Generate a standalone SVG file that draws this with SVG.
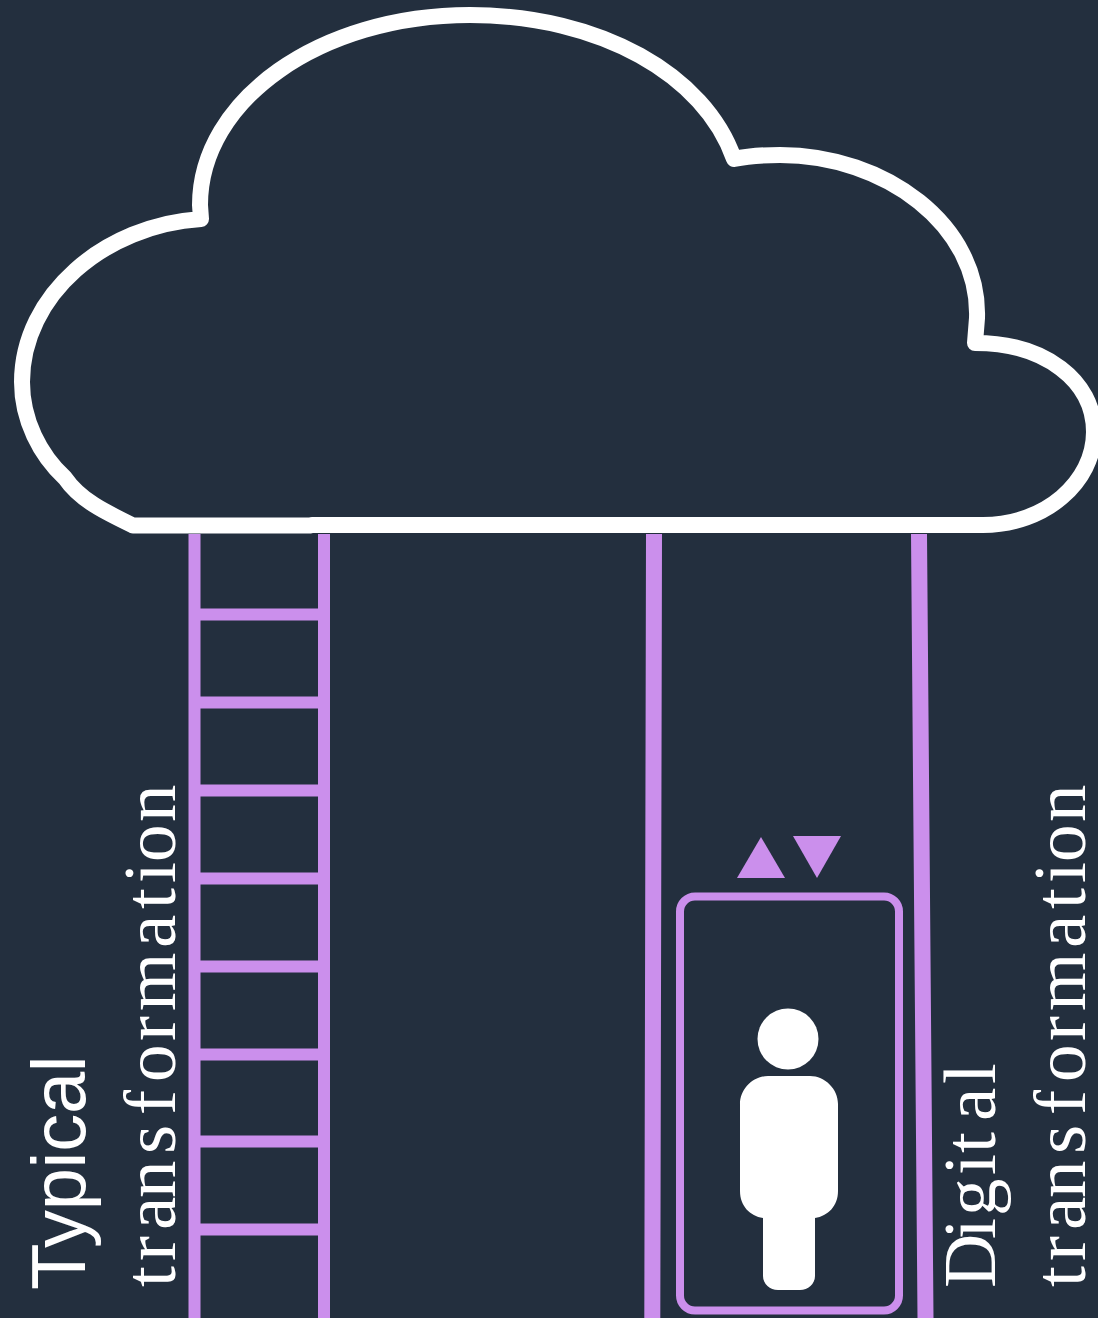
<svg xmlns="http://www.w3.org/2000/svg" width="1098" height="1318" viewBox="0 0 1098 1318">
<style>
.bar{stroke:#cb8fec;fill:none}
.sans{font-family:"Liberation Sans",Arial,sans-serif;font-size:76px;fill:#fff}
.serif{font-family:"Liberation Serif","Times New Roman",serif;font-size:75px;fill:#fff}
.tri{fill:#cb8fec}
</style>
<rect width="1098" height="1318" fill="#232f3e"/>
<g id="ladder" class="bar" stroke-width="12">
<path d="M194.500 534V1318M324 534V1318"/>
<path d="M195 614.500H324M195 702.500H324M195 790.500H324M195 878.500H324M195 966.500H324M195 1054.500H324M195 1141.500H324M195 1229.500H324"/>
</g>
<g id="elevator-shaft" class="bar" stroke-width="16">
<path d="M654 534L652.300 1318M919 534L925.500 1318"/>
</g>
<g id="elevator">
<rect x="680" y="896.500" width="219" height="414" rx="15" class="bar" stroke-width="8"/>
<polygon class="tri" points="737,878 785,878 761,837"/>
<polygon class="tri" points="793,836 841,836 817,878"/>
</g>
<g id="person" fill="#fff">
<circle cx="788" cy="1039" r="30.500"/>
<path d="M768 1076H810C825 1076 838 1089 838 1104V1191C838 1206 828 1216 815 1218V1276C815 1284 808 1290 800 1290H778C770 1290 763 1284 763 1276V1218C750 1216 740 1206 740 1191V1104C740 1089 753 1076 768 1076Z"/>
</g>
<g id="cloud">
<path fill="none" stroke="#fff" stroke-width="16" stroke-linejoin="round" d="M133 525.500H310L312 525H983C1045 525 1094 482 1094 432C1094 381 1045 343 975 343L977 318C980 225 885 155 780 155C762 155 748 156 734 159C705 75 600 15 470 15C320 15 200 100 200 205L201 219C105 225 22 295 22 382C22 420 40 455 65 478C80 500 105 512 133 525.500Z"/>
</g>
<g id="label-typical">
<text class="sans" transform="translate(85 1290) rotate(-90)" letter-spacing="-0.300">Typical</text>
<text class="serif" transform="translate(175 1287) rotate(-90)" x="0 26 57 89 133 172 205 246 276 339 378 404 425 465">transformation</text>
</g>
<g id="label-digital">
<text class="serif" transform="translate(995 1288) rotate(-90)" x="0 49 72 113 135 167 204">Digital</text>
<text class="serif" transform="translate(1085 1287) rotate(-90)" x="0 26 57 89 133 172 205 246 276 339 378 404 425 465">transformation</text>
</g>
</svg>
